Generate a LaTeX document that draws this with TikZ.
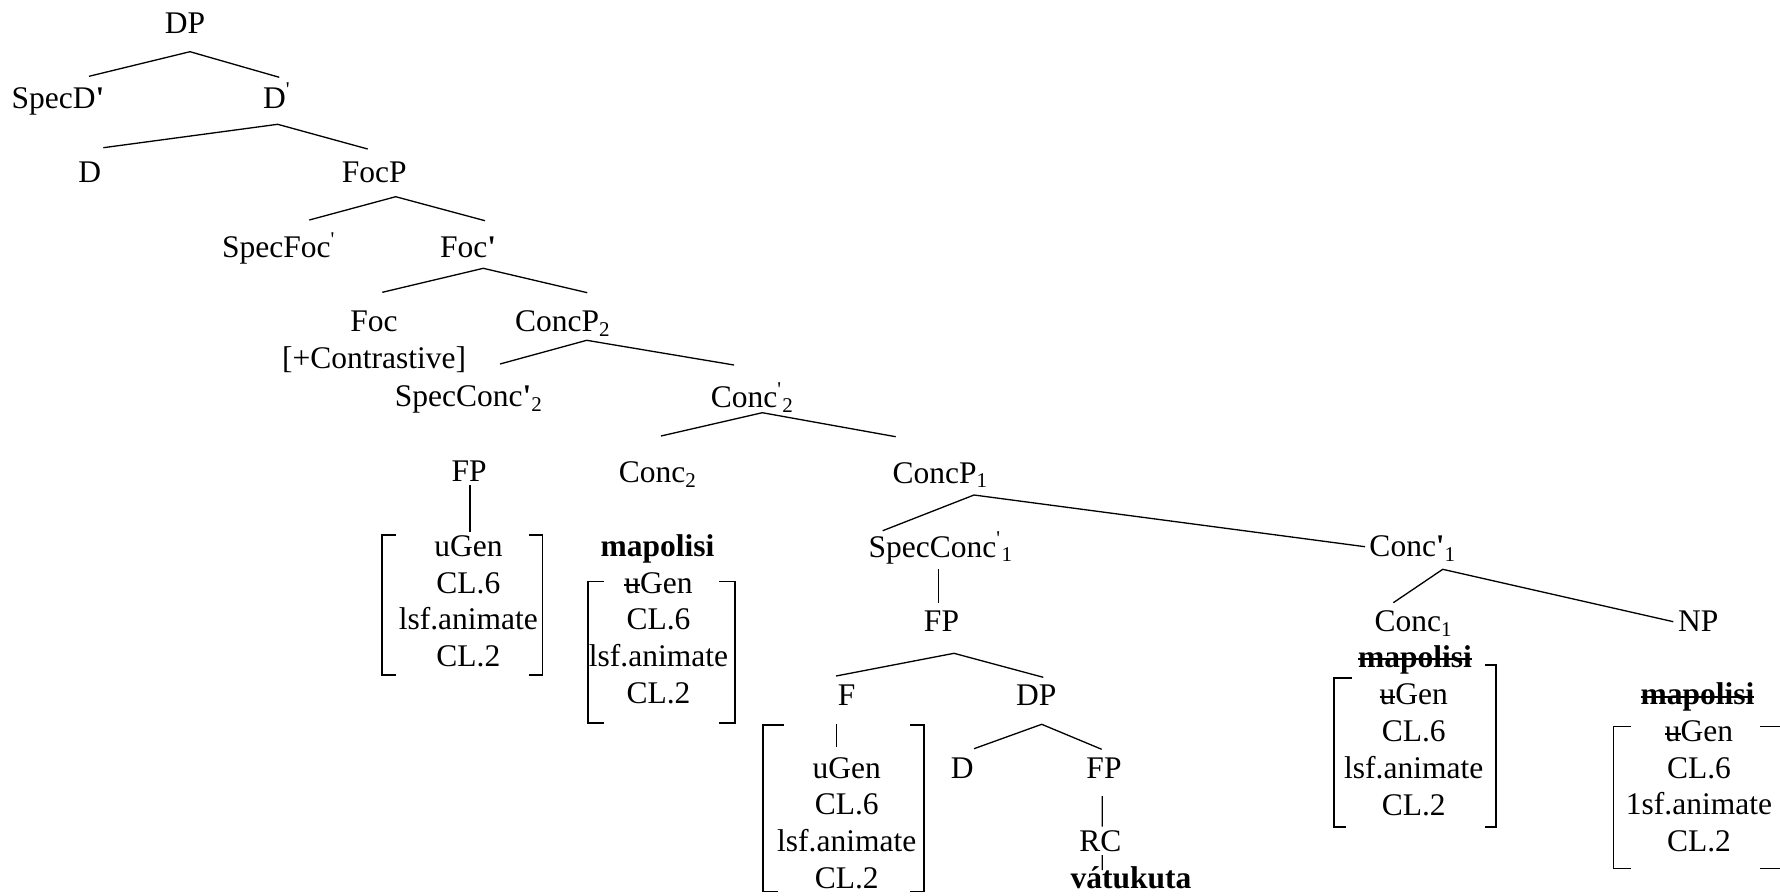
\documentclass[tikz,border=0pt]{standalone}
\usepackage{fontspec}
\setmainfont{Liberation Serif}[Ligatures=TeXOff]
\newsavebox{\strkbox}
\newcommand{\strk}[1]{\sbox{\strkbox}{#1}\rlap{\usebox{\strkbox}}\rule[0.22em]{\wd\strkbox}{0.7pt}}

\begin{document}
\begin{tikzpicture}[x=0.381pt,y=-0.381pt]
  \tikzstyle{every node}=[anchor=base,inner sep=0pt,font=\fontsize{12}{14}\selectfont]
  \tikzstyle{feat}=[align=center]
  \tikzstyle{branch}=[line width=0.5pt]
  \tikzstyle{featbr}=[line width=0.5pt]
  \useasboundingbox (0,0) rectangle (1780,895);
  \clip (0,0) rectangle (1780,895);

  \node (dp0) at (185,33.3) {DP};
  \node (specd) at (58,108.3) {SpecD\textbf{'}};
  \node (dbar) at (277,108.3) {D\textsuperscript{'}};
  \node (d0) at (89.7,182.7) {D};
  \node (focp) at (374.2,182.7) {FocP};
  \node (specfoc) at (279,257.7) {SpecFoc\textsuperscript{'}};
  \node (focbar) at (468,257.7) {Foc\textbf{'}};
  \node[feat] (foc) at (374,368.3) {Foc\\{[}+Contrastive{]}};
  \node (concptwo) at (563,331.7) {ConcP\textsubscript{2}};
  \node (specconctwo) at (469,406.7) {SpecConc\textbf{'}\textsubscript{2}};
  \node (concbartwo) at (752.5,407.7) {Conc\textsuperscript{'}\textsubscript{2}};
  \node (fpa) at (469.2,481.7) {FP};
  \node (conctwo) at (658,482.7) {Conc\textsubscript{2}};
  \node (concpone) at (940.5,483) {ConcP\textsubscript{1}};
  \node[feat] (matA) at (468.4,666.7) {uGen\\CL.6\\lsf.animate\\CL.2};
  \node (mapa) at (657.5,556.7) {\textbf{mapolisi}};
  \node[feat] (matB) at (658.5,703.3) {\strk{u}Gen\\CL.6\\lsf.animate\\CL.2};
  \node (specconcone) at (941,557) {SpecConc\textsuperscript{'}\textsubscript{1}};
  \node (concbarone) at (1413,556.7) {Conc\textbf{'}\textsubscript{1}};
  \node (fpb) at (941.5,631.7) {FP};
  \node (fhead) at (846.5,705) {F};
  \node (dpb) at (1036.3,705) {DP};
  \node[feat] (matC) at (846.7,888.3) {uGen\\CL.6\\lsf.animate\\CL.2};
  \node (db) at (962.2,778.3) {D};
  \node (fpc) at (1104,778.3) {FP};
  \node (rc) at (1100.3,851) {RC};
  \node (vatukuta) at (1131,888.3) {\textbf{vátukuta}};
  \node (concone) at (1413.7,631.7) {Conc\textsubscript{1}};
  \node (mapb) at (1415,667) {\textbf{\strk{mapolisi}}};
  \node[feat] (matD) at (1413.7,815) {\strk{u}Gen\\CL.6\\lsf.animate\\CL.2};
  \node (np) at (1698.3,631.7) {NP};
  \node (mapc) at (1697.5,704.5) {\textbf{\strk{mapolisi}}};
  \node[feat] (matE) at (1699,851.7) {\strk{u}Gen\\CL.6\\1sf.animate\\CL.2};

  \draw[branch] ([shift={(31,-32)}]specd.base) -- ([shift={(5,18.4)}]dp0.base) -- ([shift={(2.3,-31)}]dbar.base);
  \draw[branch] ([shift={(13.6,-35)}]d0.base) -- ([shift={(0.7,16)}]dbar.base) -- ([shift={(-6.5,-33.7)}]focp.base);
  \draw[branch] ([shift={(30.3,-37.7)}]specfoc.base) -- ([shift={(21.5,14)}]focp.base) -- ([shift={(17,-37)}]focbar.base);
  \draw[branch] ([shift={(8.3,-76)}]foc.base) -- ([shift={(15.3,10.6)}]focbar.base) -- ([shift={(24.3,-39)}]concptwo.base);
  \draw[branch] ([shift={(31,-42.7)}]specconctwo.base) -- ([shift={(23.7,8.6)}]concptwo.base) -- ([shift={(-18.5,-42.7)}]concbartwo.base);
  \draw[branch] ([shift={(3,-46.7)}]conctwo.base) -- ([shift={(9.8,5)}]concbartwo.base) -- ([shift={(-44.8,-46.3)}]concpone.base);
  \draw[branch] ([shift={(0.8,3.3)}]fpa.base) -- ([shift={(1.6,-135)}]matA.base);
  \draw[branch] ([shift={(-58.3,-26.3)}]specconcone.base) -- ([shift={(33.5,12)}]concpone.base) -- ([shift={(-48,-10)}]concbarone.base);
  \draw[branch] ([shift={(-2.7,12)}]specconcone.base) -- ([shift={(-3.2,-29)}]fpb.base);
  \draw[branch] ([shift={(-10.5,-29)}]fhead.base) -- ([shift={(12.5,21.6)}]fpb.base) -- ([shift={(7,-27.7)}]dpb.base);
  \draw[branch] ([shift={(-9.8,19)}]fhead.base) -- ([shift={(-10,-141)}]matC.base);
  \draw[branch] ([shift={(11.8,-29.6)}]db.base) -- ([shift={(5.4,19.3)}]dpb.base) -- ([shift={(-2.3,-29)}]fpc.base);
  \draw[branch] ([shift={(-1.7,17.7)}]fpc.base) -- ([shift={(2,-24.3)}]rc.base);
  \draw[branch] ([shift={(2,4)}]rc.base) -- ([shift={(-28.7,-18.3)}]vatukuta.base);
  \draw[branch] ([shift={(-20.4,-29)}]concone.base) -- ([shift={(29.7,12.6)}]concbarone.base) -- ([shift={(-25,-10)}]np.base);

  \draw[featbr] (396,535) -| (382,675) -- (396,675);
  \draw[featbr] (529,535) -| (542.7,675) -- (529,675);
  \draw[featbr] (604,581.7) -| (588,723) -- (604,723);
  \draw[featbr] (719,581.7) -| (735,723) -- (719,723);
  \draw[featbr] (784,725) -| (763,891.7) -- (778,891.7);
  \draw[featbr] (910,725) -| (924,891.7) -- (910,891.7);
  \draw[featbr] (1352,678) -| (1334,827) -- (1346,827);
  \draw[featbr] (1485,665) -| (1496,827) -- (1485,827);
  \draw[featbr] (1631,726.7) -| (1613.3,868.3) -- (1631,868.3);
  \draw[featbr] (1760,726.7) -| (1782,868.3) -- (1760,868.3);
\end{tikzpicture}
\end{document}
